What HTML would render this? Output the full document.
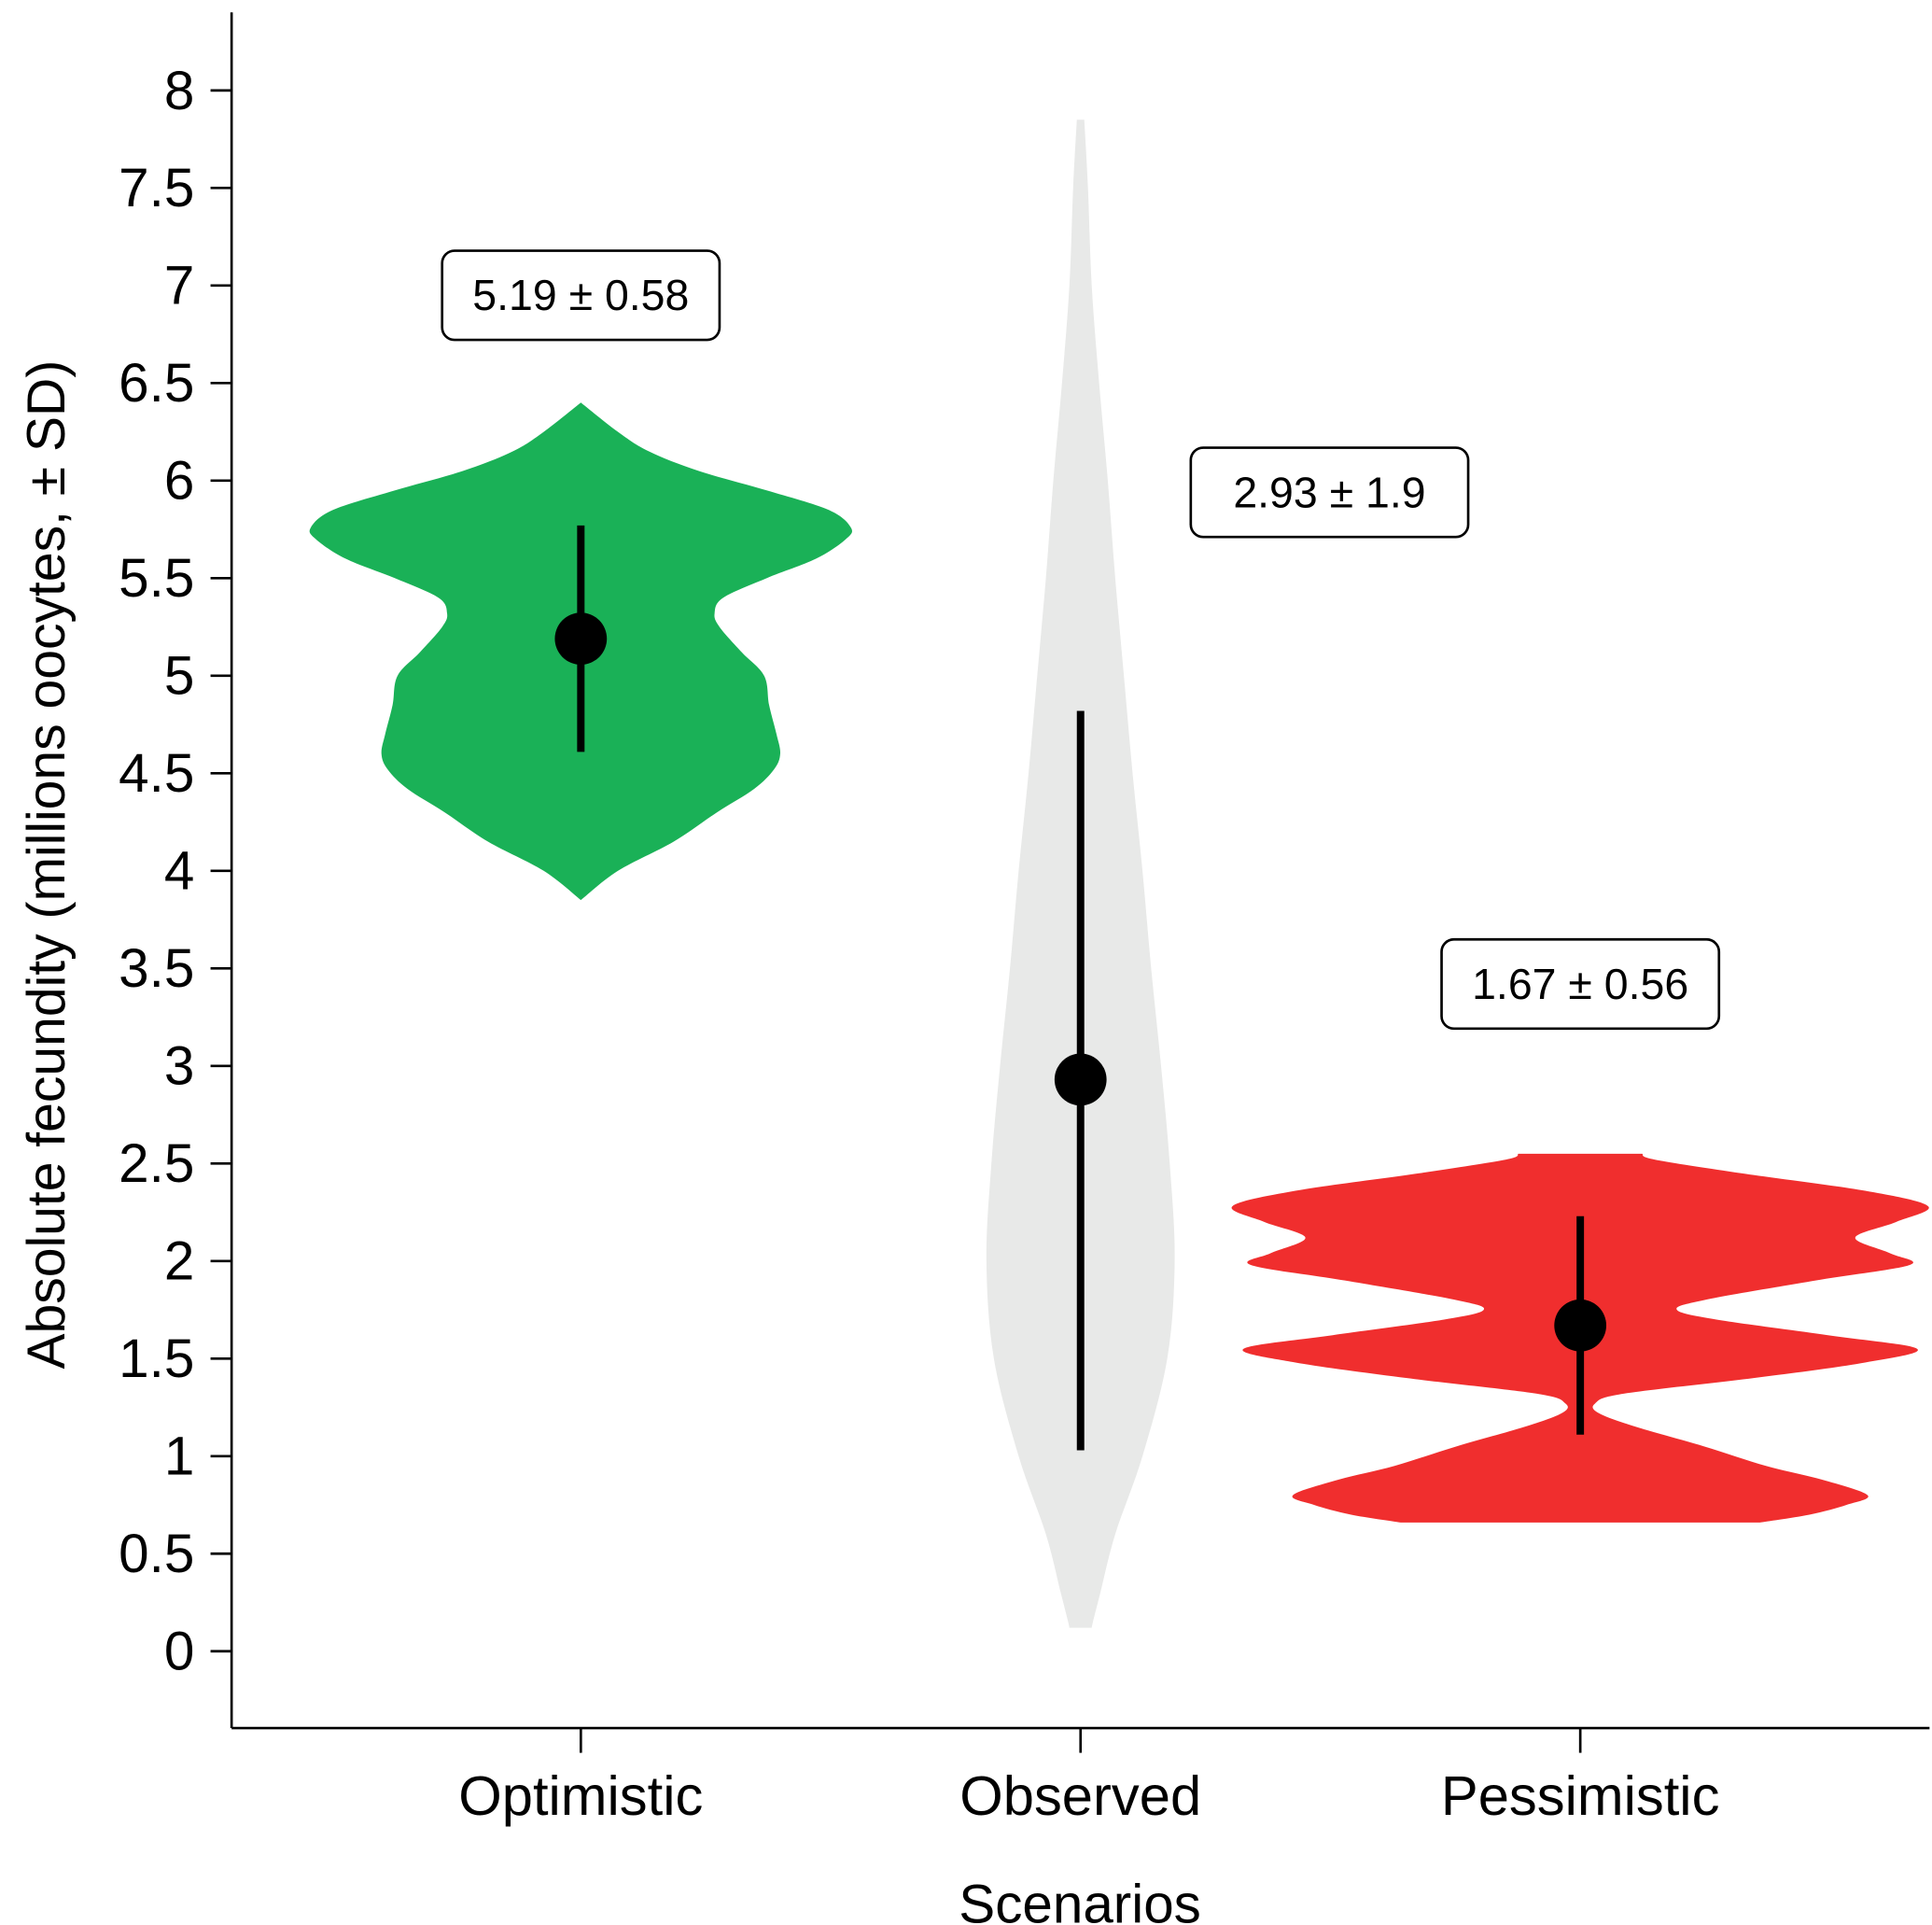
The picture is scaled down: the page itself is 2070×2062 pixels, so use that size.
<!DOCTYPE html>
<html><head><meta charset="utf-8"><style>
html,body{margin:0;padding:0;background:#fff}
svg{display:block}
text{font-family:"Liberation Sans",Arial,sans-serif;fill:#000}
</style></head><body>
<svg id="chart" width="2070" height="2062" viewBox="0 0 1560 1554" preserveAspectRatio="none" xmlns="http://www.w3.org/2000/svg">
<g id="axes"></g>
<g id="marks"></g>
<text x="0" y="0" transform="translate(52,698) rotate(-90)" text-anchor="middle" font-size="43">Absolute fecundity (millions oocytes, ± SD)</text>
<text x="872" y="1552" text-anchor="middle" font-size="44">Scenarios</text>
</svg>
<script>
const categories = ['Optimistic','Observed','Pessimistic'];
const yTicks = [0,0.5,1,1.5,2,2.5,3,3.5,4,4.5,5,5.5,6,6.5,7,7.5,8];
const yTickLabels = ['0','0.5','1','1.5','2','2.5','3','3.5','4','4.5','5','5.5','6','6.5','7','7.5','8'];
const means = [5.19, 2.93, 1.67];
const sds = [0.58, 1.9, 0.56];
const errLow = [4.61, 1.03, 1.11];
const errHigh = [5.77, 4.82, 2.23];
const labels = ['5.19 ± 0.58','2.93 ± 1.9','1.67 ± 0.56'];
const labelY = [6.95, 5.94, 3.42];
const labelDx = [0, 201, 0];
const colors = ['#1ab157','#e8e9e8','#f02e2e'];
// density profiles: [value, relative half-width]
const optY = [3.85,4.0,4.15,4.3,4.42,4.52,4.6,4.7,4.85,5.0,5.12,5.25,5.32,5.4,5.5,5.6,5.7,5.76,5.85,5.95,6.05,6.15,6.25,6.4];
const optW = [0,30,75,110,140,156,161,158,152,148,130,112,108,115,150,190,214,218,200,150,95,55,30,0];
const obsY = [0.12,0.15,0.3,0.6,1.0,1.5,2.0,2.5,3.0,3.5,4.0,4.5,5.0,5.5,6.0,6.5,7.0,7.5,7.85];
const obsW = [9,10,16,28,50,70,76,72,65,57,50,42,35,28,22,15,9,6,3];
const pesY = [0.66,0.7,0.75,0.8,0.88,0.95,1.05,1.15,1.22,1.27,1.32,1.4,1.48,1.55,1.62,1.7,1.75,1.8,1.9,1.98,2.04,2.12,2.2,2.28,2.36,2.45,2.52,2.55];
const pesW = [145,185,215,232,195,150,100,45,15,12,35,140,230,272,200,110,78,100,190,266,250,222,255,281,230,130,60,50];

const NS='http://www.w3.org/2000/svg';
const X0=187, X1=1558, YTOP=10, YBOT=1395;
const yScale = v => 1333 - v*157.5;
const xScale = i => 469 + i*403.5;
function mk(tag, attrs, parent){const e=document.createElementNS(NS,tag);for(const k in attrs)e.setAttribute(k,attrs[k]);parent.appendChild(e);return e;}
const axes=document.getElementById('axes'), marks=document.getElementById('marks');

let a=mk('line',{x1:X0,y1:YTOP,x2:X0,y2:YBOT,stroke:'#000','stroke-width':2},axes);


a=mk('line',{x1:X0,y1:YBOT,x2:X1,y2:YBOT,stroke:'#000','stroke-width':2},axes);


yTicks.forEach((v,i)=>{
  const y=yScale(v);
  const t=mk('line',{x1:170,y1:y,x2:X0,y2:y,stroke:'#000','stroke-width':2},axes);
  
  
  const l=mk('text',{x:157,y:y+15,'text-anchor':'end','font-size':44},axes);
  l.textContent=yTickLabels[i];
  
  
});
categories.forEach((c,i)=>{
  const x=xScale(i);
  const t=mk('line',{x1:x,y1:YBOT,x2:x,y2:1415,stroke:'#000','stroke-width':2},axes);
  
  
  const l=mk('text',{x:x,y:1465,'text-anchor':'middle','font-size':45},axes);
  l.textContent=c;
  
  
});

function smoothSide(pts){
  let d='';
  for(let i=0;i<pts.length-1;i++){
    const p0=pts[Math.max(0,i-1)],p1=pts[i],p2=pts[i+1],p3=pts[Math.min(pts.length-1,i+2)];
    const c1=[p1[0]+(p2[0]-p0[0])/6,p1[1]+(p2[1]-p0[1])/6];
    const c2=[p2[0]-(p3[0]-p1[0])/6,p2[1]-(p3[1]-p1[1])/6];
    d+=` C${c1[0]},${c1[1]} ${c2[0]},${c2[1]} ${p2[0]},${p2[1]}`;
  }
  return d;
}
function violin(i, ys, ws, name){
  const cx=xScale(i);
  const right=ys.map((v,k)=>[cx+ws[k], yScale(v)]);
  const left=ys.map((v,k)=>[cx-ws[k], yScale(v)]).reverse();
  let d=`M${cx-ws[0]},${yScale(ys[0])} L${right[0][0]},${right[0][1]}`+smoothSide(right)+` L${left[0][0]},${left[0][1]}`+smoothSide(left)+' Z';
  const p=mk('path',{d:d,fill:colors[i]},marks);
  
  
}
violin(0,optY,optW,'violin-optimistic');
violin(1,obsY,obsW,'violin-observed');
violin(2,pesY,pesW,'violin-pessimistic');

categories.forEach((c,i)=>{
  const x=xScale(i);
  const e=mk('line',{x1:x,y1:yScale(errLow[i]),x2:x,y2:yScale(errHigh[i]),stroke:'#000','stroke-width':6},marks);
  
  
  const m=mk('circle',{cx:x,cy:yScale(means[i]),r:21,fill:'#000'},marks);
  
  
  const bx=x+labelDx[i], by=yScale(labelY[i]);
  const b=mk('rect',{x:bx-112,y:by-36,width:224,height:72,rx:10,fill:'#fff',stroke:'#000','stroke-width':2},marks);
  
  
  const t=mk('text',{x:bx,y:by+12,'text-anchor':'middle','font-size':35},marks);
  t.textContent=labels[i];
  
  
});
</script>
</body></html>
